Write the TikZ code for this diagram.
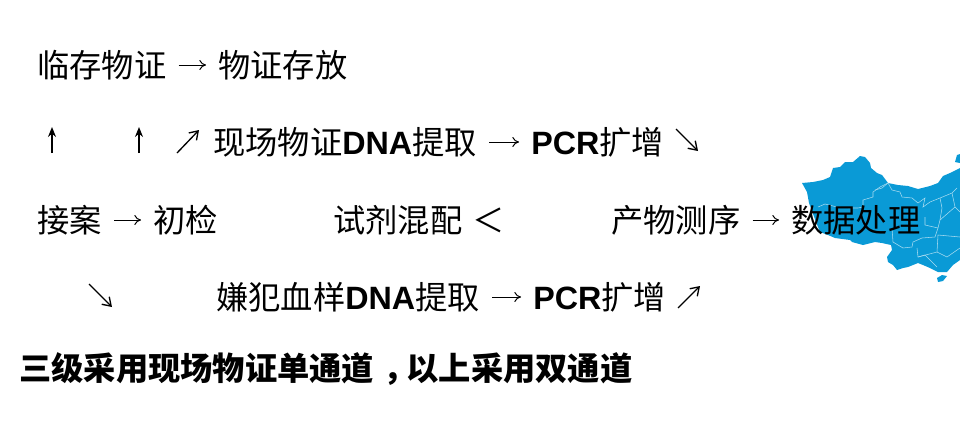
\documentclass[tikz,border=0pt]{standalone}
\usepackage{fontspec}
\usetikzlibrary{arrows.meta}
\setmainfont{Noto Sans CJK SC}
\newfontfamily\latinfont{Liberation Sans}
\newcommand{\latbf}[1]{{\latinfont\bfseries #1}}
\definecolor{mapblue}{HTML}{0A9AD6}
\tikzstyle{step text}=[anchor=west, inner xsep=9pt, inner ysep=0pt, text height=21pt, text depth=3pt, font=\fontsize{24.2}{28}\selectfont]
\tikzstyle{flow}=[-{To[length=5pt, width=7.5pt]}, line width=.75pt, black]
\tikzstyle{flowup}=[-{Stealth[length=7.5pt, width=6pt]}, line width=.9pt, black]
\tikzstyle{flowdiag}=[-{Straight Barb[length=6pt, width=8pt]}, line width=1pt, black]
\tikzstyle{border}=[white!65!mapblue, line width=.4pt]
\begin{document}
\begin{tikzpicture}[x=.75pt, y=-.75pt]
  \useasboundingbox (0,0) rectangle (960,433);

  % map behind the text
  \fill[mapblue] (802,183) -- (813,182) -- (823,180) -- (830,177) -- (833,168) -- (840,167) -- (845,162) -- (853,162) -- (860,156) -- (865,157) -- (870,163) -- (871,168) -- (877,173) -- (882,175) -- (888,183) -- (898,185) -- (908,186) -- (918,189) -- (930,186) -- (938,183) -- (943,176) -- (950,173) -- (960,168) -- (960,260) -- (953,265) -- (947,272) -- (938,272) -- (930,268) -- (923,265) -- (918,263) -- (908,267) -- (903,268) -- (897,270) -- (893,265) -- (888,262) -- (887,257) -- (892,250) -- (891,245) -- (882,243) -- (875,242) -- (863,245) -- (852,242) -- (850,240) -- (835,238) -- (828,235) -- (820,232) -- (816,222) -- (809,203) -- (807,192) -- cycle;
  \fill[mapblue] (955,162) -- (957,155) -- (960,154) -- (960,163) -- cycle;
  \fill[mapblue] (937,278) -- (942,275) -- (947,276) -- (943,281) -- (938,282) -- cycle;
  \draw[border] (818,207) -- (825,204) -- (837,207) -- (852,208) -- (858,208) -- (863,207) -- (863,200) -- (873,197) -- (873,192) -- (880,187) -- (888,183);
  \draw[border] (875,190) -- (882,188) -- (888,183) -- (892,190) -- (900,192) -- (902,197) -- (912,198) -- (918,203) -- (925,198) -- (923,207) -- (930,202) -- (940,198) -- (952,193) -- (957,188);
  \draw[border] (940,198) -- (942,208) -- (940,220) -- (938,228) -- (935,237) -- (922,238) -- (913,242) -- (912,247) -- (903,248) -- (893,242) -- (892,228);
  \draw[border] (938,228) -- (925,225) -- (925,217);
  \draw[border] (955,207) -- (960,212);
  \draw[border] (952,193) -- (955,207) -- (940,220);
  \draw[border] (917,248) -- (918,257) -- (937,252) -- (938,235) -- (960,237);
  \draw[border] (937,252) -- (947,257) -- (960,248);
  \draw[border] (918,257) -- (925,255) -- (937,267);

  % first row
  \node[step text] (temp) at (25,65) {临存物证};
  \node[step text] (keep) at (206,65) {物证存放};
  % second row
  \node[step text] (scene) at (201,142) {现场物证\latbf{DNA}提取};
  \node[step text] (pcra) at (519,142) {\latbf{PCR}扩增};
  % third row
  \node[step text] (intake) at (25,220) {接案};
  \node[step text] (check) at (141,220) {初检};
  \node[step text] (mix) at (321,220) {试剂混配};
  \node[step text] (fork) at (460,220) {＜};
  \node[step text] (seq) at (599,220) {产物测序};
  \node[step text] (data) at (779,220) {数据处理};
  % fourth row
  \node[step text] (blood) at (204,297) {嫌犯血样\latbf{DNA}提取};
  \node[step text] (pcrb) at (521,297) {\latbf{PCR}扩增};
  % note
  \node[step text, inner xsep=0pt] (note) at (19,368) {\bfseries 三级采用现场物证单通道\kern7pt ，\kern-7pt 以上采用双通道};

  \coordinate (upa0) at (52,153);
  \coordinate (upa1) at (52,127);
  \coordinate (upb0) at (139,153);
  \coordinate (upb1) at (139,127);
  \coordinate (nea0) at (177,153);
  \coordinate (nea1) at (199,130);
  \coordinate (sea0) at (676,129);
  \coordinate (sea1) at (698,151);
  \coordinate (seb0) at (89,284);
  \coordinate (seb1) at (112,307);
  \coordinate (neb0) at (678,308);
  \coordinate (neb1) at (700,286);

  \draw[flow] (temp) -- (keep);
  \draw[flow] (scene) -- (pcra);
  \draw[flow] (intake) -- (check);
  \draw[flow] (seq) -- (data);
  \draw[flow] (blood) -- (pcrb);
  \draw[flowup] (upa0) -- (upa1);
  \draw[flowup] (upb0) -- (upb1);
  \draw[flowdiag] (nea0) -- (nea1);
  \draw[flowdiag] (sea0) -- (sea1);
  \draw[flowdiag] (seb0) -- (seb1);
  \draw[flowdiag] (neb0) -- (neb1);
\end{tikzpicture}
\end{document}
